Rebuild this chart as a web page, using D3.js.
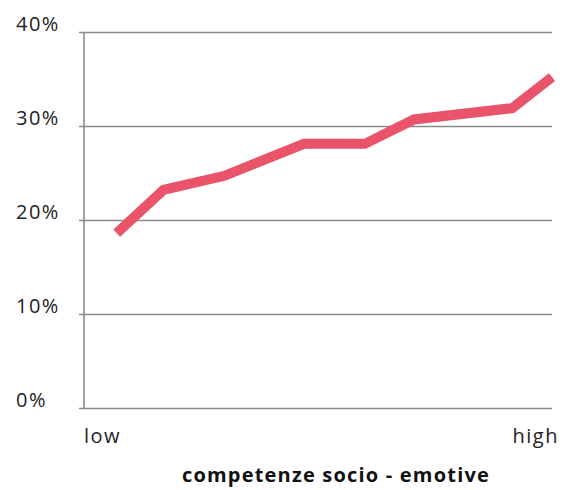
<!DOCTYPE html>
<html>
<head>
<meta charset="utf-8">
<script src="https://cdn.jsdelivr.net/npm/d3@7"></script>
<style>
  html, body { margin: 0; padding: 0; background: #fff; }
  svg { display: block; font-family: "Open Sans", Lato, sans-serif; }
</style>
</head>
<body>
<svg id="chart" width="563" height="490"></svg>
<script>
// Position along the socio-emotional competence scale (0 = low, 100 = high)
const competence = [7, 17, 30, 47, 60, 70.5, 91.5, 100];
// Share for each position, in percent
const share = [18.6, 23.2, 24.7, 28.1, 28.1, 30.7, 31.9, 35.2];
const yTicks = [0, 10, 20, 30, 40];
const xEndLabels = ["low", "high"];
const xTitle = "competenze socio - emotive";

const svg = d3.select("#chart");
const plotLeft = 84, plotRight = 552, plotTop = 32, plotBottom = 408;

const x = d3.scaleLinear().domain([0, 100]).range([plotLeft, plotRight]);
const y = d3.scaleLinear().domain([0, 40]).range([plotBottom, plotTop]);

// Horizontal gridlines with short ticks out to the left
svg.append("g")
  .attr("transform", `translate(${plotLeft},0)`)
  .call(d3.axisLeft(y).tickValues(yTicks).tickSize(-(plotRight - plotLeft)).tickSizeOuter(0).tickFormat(""))
  .call(g => g.select(".domain").remove())
  .call(g => g.selectAll(".tick line")
    .attr("x1", -5)
    .attr("stroke", "#8a8a8a")
    .attr("stroke-width", 1.6));

// Vertical axis line
svg.append("line")
  .attr("x1", plotLeft).attr("x2", plotLeft)
  .attr("y1", y(40)).attr("y2", y(0))
  .attr("stroke", "#8a8a8a")
  .attr("stroke-width", 1.6);

// Y labels sit on their gridlines, left aligned
svg.append("g").selectAll("text")
  .data(yTicks)
  .join("text")
  .attr("x", 16)
  .attr("y", d => y(d) - 1)
  .attr("fill", "#222")
  .attr("font-size", 20)
  .attr("letter-spacing", 1.5)
  .text(d => d + "%");

// Ends of the x scale
svg.append("text")
  .attr("x", 84).attr("y", 443)
  .attr("fill", "#222").attr("font-size", 20)
  .attr("letter-spacing", 1.5)
  .text(xEndLabels[0]);
svg.append("text")
  .attr("x", 559).attr("y", 443)
  .attr("text-anchor", "end")
  .attr("fill", "#222").attr("font-size", 20)
  .attr("letter-spacing", 1.5)
  .text(xEndLabels[1]);

// Axis title
svg.append("text")
  .attr("x", 336).attr("y", 482)
  .attr("text-anchor", "middle")
  .attr("fill", "#111").attr("font-size", 20)
  .attr("font-weight", "bold")
  .attr("letter-spacing", 1.2)
  .text(xTitle);

// Data line
const line = d3.line()
  .x((d, i) => x(competence[i]))
  .y(d => y(d));

svg.append("path")
  .datum(share)
  .attr("d", line)
  .attr("fill", "none")
  .attr("stroke", "#e9546b")
  .attr("stroke-width", 10)
  .attr("stroke-linejoin", "miter")
  .attr("stroke-linecap", "butt");
</script>
</body>
</html>
